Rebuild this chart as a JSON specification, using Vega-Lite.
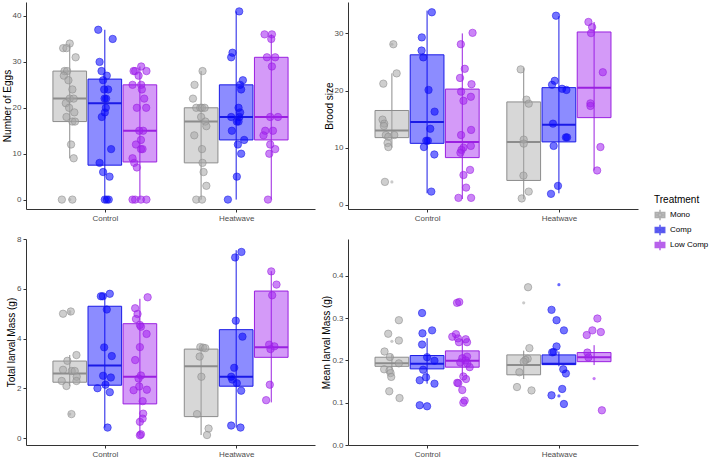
{
 "$schema": "https://vega.github.io/schema/vega-lite/v6.json",
 "background": "white",
 "padding": {"left": 2, "top": 2, "right": 0, "bottom": 0},
 "config": {
  "view": {"stroke": null},
  "font": "Liberation Sans",
  "axis": {"grid": false, "domainColor": "#333333", "tickColor": "#333333", "labelColor": "#4d4d4d", "labelFontSize": 8, "titleFontSize": 10, "titleFontWeight": "normal", "titleColor": "#000000", "tickSize": 3, "labelPadding": 2, "titlePadding": 0},
  "legend": {"titleFontSize": 10, "titleFontWeight": "normal", "labelFontSize": 8, "labelColor": "#000000", "titleColor": "#000000"}
 },
 "datasets": {
  "boxes": [
   {"measure":"Eggs","site":"Control","treatment":"Mono","lw":9,"q1":17,"med":22,"q3":28,"uw":34},
   {"measure":"Eggs","site":"Control","treatment":"Comp","lw":0,"q1":7.5,"med":21,"q3":26.25,"uw":37},
   {"measure":"Eggs","site":"Control","treatment":"Low Comp","lw":0,"q1":8.2,"med":15,"q3":25,"uw":29},
   {"measure":"Eggs","site":"Heatwave","treatment":"Mono","lw":0,"q1":8,"med":17,"q3":20,"uw":28},
   {"measure":"Eggs","site":"Heatwave","treatment":"Comp","lw":0,"q1":13,"med":18,"q3":25,"uw":41},
   {"measure":"Eggs","site":"Heatwave","treatment":"Low Comp","lw":0,"q1":13,"med":18,"q3":31,"uw":36},
   {"measure":"Brood","site":"Control","treatment":"Mono","lw":10,"q1":11.75,"med":13,"q3":16.5,"uw":23},
   {"measure":"Brood","site":"Control","treatment":"Comp","lw":2,"q1":10.75,"med":14.5,"q3":26.25,"uw":34},
   {"measure":"Brood","site":"Control","treatment":"Low Comp","lw":1,"q1":8.25,"med":11,"q3":20.25,"uw":30},
   {"measure":"Brood","site":"Heatwave","treatment":"Mono","lw":1,"q1":4.25,"med":11,"q3":18,"uw":24},
   {"measure":"Brood","site":"Heatwave","treatment":"Comp","lw":2,"q1":11,"med":14,"q3":20.5,"uw":33},
   {"measure":"Brood","site":"Heatwave","treatment":"Low Comp","lw":6,"q1":15.25,"med":20.5,"q3":30.25,"uw":32},
   {"measure":"Total","site":"Control","treatment":"Mono","lw":2.1,"q1":2.25,"med":2.6,"q3":3.1,"uw":3.34},
   {"measure":"Total","site":"Control","treatment":"Comp","lw":0.43,"q1":2.13,"med":2.92,"q3":5.3,"uw":5.8},
   {"measure":"Total","site":"Control","treatment":"Low Comp","lw":0.12,"q1":1.38,"med":2.47,"q3":4.6,"uw":5.6},
   {"measure":"Total","site":"Heatwave","treatment":"Mono","lw":0.13,"q1":0.87,"med":2.89,"q3":3.58,"uw":3.66},
   {"measure":"Total","site":"Heatwave","treatment":"Comp","lw":0.43,"q1":2.09,"med":2.47,"q3":4.36,"uw":7.55},
   {"measure":"Total","site":"Heatwave","treatment":"Low Comp","lw":1.44,"q1":3.25,"med":3.65,"q3":5.91,"uw":6.71},
   {"measure":"Mean","site":"Control","treatment":"Mono","lw":0.178,"q1":0.186,"med":0.193,"q3":0.2075,"uw":0.214},
   {"measure":"Mean","site":"Control","treatment":"Comp","lw":0.145,"q1":0.18,"med":0.192,"q3":0.2115,"uw":0.2525},
   {"measure":"Mean","site":"Control","treatment":"Low Comp","lw":0.163,"q1":0.184,"med":0.199,"q3":0.2225,"uw":0.25},
   {"measure":"Mean","site":"Heatwave","treatment":"Mono","lw":0.156,"q1":0.166,"med":0.189,"q3":0.213,"uw":0.223},
   {"measure":"Mean","site":"Heatwave","treatment":"Comp","lw":0.186,"q1":0.19,"med":0.192,"q3":0.213,"uw":0.221},
   {"measure":"Mean","site":"Heatwave","treatment":"Low Comp","lw":0.189,"q1":0.197,"med":0.2075,"q3":0.2185,"uw":0.236}
  ],
  "outliers": [
   {"measure":"Eggs","site":"Control","treatment":"Mono","value":0},
   {"measure":"Brood","site":"Control","treatment":"Mono","value":4.0},
   {"measure":"Brood","site":"Control","treatment":"Mono","value":28.1},
   {"measure":"Total","site":"Control","treatment":"Mono","value":5.0},
   {"measure":"Total","site":"Control","treatment":"Mono","value":5.09},
   {"measure":"Total","site":"Control","treatment":"Mono","value":0.97},
   {"measure":"Mean","site":"Control","treatment":"Mono","value":0.245},
   {"measure":"Mean","site":"Heatwave","treatment":"Mono","value":0.336},
   {"measure":"Mean","site":"Heatwave","treatment":"Comp","value":0.379},
   {"measure":"Mean","site":"Heatwave","treatment":"Comp","value":0.116},
   {"measure":"Mean","site":"Heatwave","treatment":"Low Comp","value":0.157}
  ],
  "points": [
   {"measure":"Eggs","site":"Control","treatment":"Mono","value":34,"jitter":0},
   {"measure":"Eggs","site":"Control","treatment":"Mono","value":33,"jitter":-0.05},
   {"measure":"Eggs","site":"Control","treatment":"Mono","value":33,"jitter":-0.025},
   {"measure":"Eggs","site":"Control","treatment":"Mono","value":31,"jitter":0.045},
   {"measure":"Eggs","site":"Control","treatment":"Mono","value":28,"jitter":-0.04},
   {"measure":"Eggs","site":"Control","treatment":"Mono","value":28,"jitter":-0.02},
   {"measure":"Eggs","site":"Control","treatment":"Mono","value":27,"jitter":-0.045},
   {"measure":"Eggs","site":"Control","treatment":"Mono","value":26,"jitter":-0.01},
   {"measure":"Eggs","site":"Control","treatment":"Mono","value":24,"jitter":0.02},
   {"measure":"Eggs","site":"Control","treatment":"Mono","value":22,"jitter":0},
   {"measure":"Eggs","site":"Control","treatment":"Mono","value":22,"jitter":0.03},
   {"measure":"Eggs","site":"Control","treatment":"Mono","value":21,"jitter":-0.03},
   {"measure":"Eggs","site":"Control","treatment":"Mono","value":20,"jitter":-0.005},
   {"measure":"Eggs","site":"Control","treatment":"Mono","value":19,"jitter":0.035},
   {"measure":"Eggs","site":"Control","treatment":"Mono","value":18,"jitter":-0.025},
   {"measure":"Eggs","site":"Control","treatment":"Mono","value":17,"jitter":0.02},
   {"measure":"Eggs","site":"Control","treatment":"Mono","value":17,"jitter":0.04},
   {"measure":"Eggs","site":"Control","treatment":"Mono","value":12,"jitter":0.01},
   {"measure":"Eggs","site":"Control","treatment":"Mono","value":9,"jitter":0.03},
   {"measure":"Eggs","site":"Control","treatment":"Mono","value":0,"jitter":-0.06},
   {"measure":"Eggs","site":"Control","treatment":"Mono","value":0,"jitter":0.02},
   {"measure":"Eggs","site":"Control","treatment":"Comp","value":37,"jitter":-0.05},
   {"measure":"Eggs","site":"Control","treatment":"Comp","value":35,"jitter":0.06},
   {"measure":"Eggs","site":"Control","treatment":"Comp","value":30,"jitter":-0.04},
   {"measure":"Eggs","site":"Control","treatment":"Comp","value":28,"jitter":-0.025},
   {"measure":"Eggs","site":"Control","treatment":"Comp","value":27,"jitter":0.015},
   {"measure":"Eggs","site":"Control","treatment":"Comp","value":26,"jitter":-0.013},
   {"measure":"Eggs","site":"Control","treatment":"Comp","value":24,"jitter":-0.005},
   {"measure":"Eggs","site":"Control","treatment":"Comp","value":24,"jitter":0.025},
   {"measure":"Eggs","site":"Control","treatment":"Comp","value":22,"jitter":-0.002},
   {"measure":"Eggs","site":"Control","treatment":"Comp","value":22,"jitter":0.01},
   {"measure":"Eggs","site":"Control","treatment":"Comp","value":20,"jitter":0.008},
   {"measure":"Eggs","site":"Control","treatment":"Comp","value":19,"jitter":0},
   {"measure":"Eggs","site":"Control","treatment":"Comp","value":18,"jitter":-0.023},
   {"measure":"Eggs","site":"Control","treatment":"Comp","value":11,"jitter":0.048},
   {"measure":"Eggs","site":"Control","treatment":"Comp","value":8,"jitter":-0.04},
   {"measure":"Eggs","site":"Control","treatment":"Comp","value":6,"jitter":-0.013},
   {"measure":"Eggs","site":"Control","treatment":"Comp","value":5,"jitter":0.036},
   {"measure":"Eggs","site":"Control","treatment":"Comp","value":0,"jitter":0},
   {"measure":"Eggs","site":"Control","treatment":"Comp","value":0,"jitter":0.015},
   {"measure":"Eggs","site":"Control","treatment":"Comp","value":0,"jitter":0.03},
   {"measure":"Eggs","site":"Control","treatment":"Low Comp","value":29,"jitter":0.01},
   {"measure":"Eggs","site":"Control","treatment":"Low Comp","value":28,"jitter":-0.048},
   {"measure":"Eggs","site":"Control","treatment":"Low Comp","value":28,"jitter":-0.036},
   {"measure":"Eggs","site":"Control","treatment":"Low Comp","value":28,"jitter":0.05},
   {"measure":"Eggs","site":"Control","treatment":"Low Comp","value":27,"jitter":-0.01},
   {"measure":"Eggs","site":"Control","treatment":"Low Comp","value":25,"jitter":-0.056},
   {"measure":"Eggs","site":"Control","treatment":"Low Comp","value":25,"jitter":0.01},
   {"measure":"Eggs","site":"Control","treatment":"Low Comp","value":24,"jitter":0.015},
   {"measure":"Eggs","site":"Control","treatment":"Low Comp","value":22,"jitter":0.033},
   {"measure":"Eggs","site":"Control","treatment":"Low Comp","value":20,"jitter":-0.023},
   {"measure":"Eggs","site":"Control","treatment":"Low Comp","value":20,"jitter":0.048},
   {"measure":"Eggs","site":"Control","treatment":"Low Comp","value":15,"jitter":0.025},
   {"measure":"Eggs","site":"Control","treatment":"Low Comp","value":15,"jitter":-0.005},
   {"measure":"Eggs","site":"Control","treatment":"Low Comp","value":13,"jitter":0.008},
   {"measure":"Eggs","site":"Control","treatment":"Low Comp","value":12,"jitter":-0.03},
   {"measure":"Eggs","site":"Control","treatment":"Low Comp","value":11,"jitter":0.008},
   {"measure":"Eggs","site":"Control","treatment":"Low Comp","value":11,"jitter":0.02},
   {"measure":"Eggs","site":"Control","treatment":"Low Comp","value":9,"jitter":-0.056},
   {"measure":"Eggs","site":"Control","treatment":"Low Comp","value":8,"jitter":-0.043},
   {"measure":"Eggs","site":"Control","treatment":"Low Comp","value":7,"jitter":-0.023},
   {"measure":"Eggs","site":"Control","treatment":"Low Comp","value":0,"jitter":-0.056},
   {"measure":"Eggs","site":"Control","treatment":"Low Comp","value":0,"jitter":-0.036},
   {"measure":"Eggs","site":"Control","treatment":"Low Comp","value":0,"jitter":0.008},
   {"measure":"Eggs","site":"Control","treatment":"Low Comp","value":0,"jitter":0.05},
   {"measure":"Eggs","site":"Heatwave","treatment":"Mono","value":28,"jitter":0.011},
   {"measure":"Eggs","site":"Heatwave","treatment":"Mono","value":25,"jitter":-0.05},
   {"measure":"Eggs","site":"Heatwave","treatment":"Mono","value":22,"jitter":-0.062},
   {"measure":"Eggs","site":"Heatwave","treatment":"Mono","value":20,"jitter":-0.037},
   {"measure":"Eggs","site":"Heatwave","treatment":"Mono","value":20,"jitter":-0.006},
   {"measure":"Eggs","site":"Heatwave","treatment":"Mono","value":20,"jitter":0.007},
   {"measure":"Eggs","site":"Heatwave","treatment":"Mono","value":20,"jitter":0.027},
   {"measure":"Eggs","site":"Heatwave","treatment":"Mono","value":18,"jitter":0},
   {"measure":"Eggs","site":"Heatwave","treatment":"Mono","value":17,"jitter":0.032},
   {"measure":"Eggs","site":"Heatwave","treatment":"Mono","value":16,"jitter":0.04},
   {"measure":"Eggs","site":"Heatwave","treatment":"Mono","value":14,"jitter":-0.052},
   {"measure":"Eggs","site":"Heatwave","treatment":"Mono","value":11,"jitter":0.007},
   {"measure":"Eggs","site":"Heatwave","treatment":"Mono","value":8,"jitter":0.011},
   {"measure":"Eggs","site":"Heatwave","treatment":"Mono","value":6,"jitter":0.019},
   {"measure":"Eggs","site":"Heatwave","treatment":"Mono","value":3,"jitter":0.04},
   {"measure":"Eggs","site":"Heatwave","treatment":"Mono","value":0,"jitter":-0.037},
   {"measure":"Eggs","site":"Heatwave","treatment":"Mono","value":0,"jitter":0.007},
   {"measure":"Eggs","site":"Heatwave","treatment":"Comp","value":41,"jitter":0.023},
   {"measure":"Eggs","site":"Heatwave","treatment":"Comp","value":32,"jitter":-0.028},
   {"measure":"Eggs","site":"Heatwave","treatment":"Comp","value":31,"jitter":-0.038},
   {"measure":"Eggs","site":"Heatwave","treatment":"Comp","value":26,"jitter":0.051},
   {"measure":"Eggs","site":"Heatwave","treatment":"Comp","value":25,"jitter":0.03},
   {"measure":"Eggs","site":"Heatwave","treatment":"Comp","value":24,"jitter":0.038},
   {"measure":"Eggs","site":"Heatwave","treatment":"Comp","value":20,"jitter":0.018},
   {"measure":"Eggs","site":"Heatwave","treatment":"Comp","value":19,"jitter":0.03},
   {"measure":"Eggs","site":"Heatwave","treatment":"Comp","value":18,"jitter":-0.038},
   {"measure":"Eggs","site":"Heatwave","treatment":"Comp","value":18,"jitter":0.025},
   {"measure":"Eggs","site":"Heatwave","treatment":"Comp","value":17,"jitter":0.005},
   {"measure":"Eggs","site":"Heatwave","treatment":"Comp","value":17,"jitter":0.018},
   {"measure":"Eggs","site":"Heatwave","treatment":"Comp","value":15,"jitter":-0.033},
   {"measure":"Eggs","site":"Heatwave","treatment":"Comp","value":13,"jitter":0.061},
   {"measure":"Eggs","site":"Heatwave","treatment":"Comp","value":12,"jitter":0.013},
   {"measure":"Eggs","site":"Heatwave","treatment":"Comp","value":10,"jitter":0.038},
   {"measure":"Eggs","site":"Heatwave","treatment":"Comp","value":5,"jitter":0.005},
   {"measure":"Eggs","site":"Heatwave","treatment":"Comp","value":0,"jitter":-0.063},
   {"measure":"Eggs","site":"Heatwave","treatment":"Low Comp","value":36,"jitter":-0.051},
   {"measure":"Eggs","site":"Heatwave","treatment":"Low Comp","value":36,"jitter":0.005},
   {"measure":"Eggs","site":"Heatwave","treatment":"Low Comp","value":35,"jitter":0},
   {"measure":"Eggs","site":"Heatwave","treatment":"Low Comp","value":31,"jitter":-0.033},
   {"measure":"Eggs","site":"Heatwave","treatment":"Low Comp","value":31,"jitter":0.03},
   {"measure":"Eggs","site":"Heatwave","treatment":"Low Comp","value":29,"jitter":0.005},
   {"measure":"Eggs","site":"Heatwave","treatment":"Low Comp","value":18,"jitter":-0.008},
   {"measure":"Eggs","site":"Heatwave","treatment":"Low Comp","value":18,"jitter":0.051},
   {"measure":"Eggs","site":"Heatwave","treatment":"Low Comp","value":15,"jitter":-0.046},
   {"measure":"Eggs","site":"Heatwave","treatment":"Low Comp","value":15,"jitter":0.013},
   {"measure":"Eggs","site":"Heatwave","treatment":"Low Comp","value":14,"jitter":-0.059},
   {"measure":"Eggs","site":"Heatwave","treatment":"Low Comp","value":12,"jitter":-0.008},
   {"measure":"Eggs","site":"Heatwave","treatment":"Low Comp","value":11,"jitter":0.03},
   {"measure":"Eggs","site":"Heatwave","treatment":"Low Comp","value":10,"jitter":-0.015},
   {"measure":"Eggs","site":"Heatwave","treatment":"Low Comp","value":0,"jitter":-0.025},
   {"measure":"Brood","site":"Control","treatment":"Mono","value":28.1,"jitter":0.011},
   {"measure":"Brood","site":"Control","treatment":"Mono","value":23,"jitter":0.036},
   {"measure":"Brood","site":"Control","treatment":"Mono","value":21.2,"jitter":-0.065},
   {"measure":"Brood","site":"Control","treatment":"Mono","value":14.9,"jitter":-0.071},
   {"measure":"Brood","site":"Control","treatment":"Mono","value":14.2,"jitter":-0.058},
   {"measure":"Brood","site":"Control","treatment":"Mono","value":13.8,"jitter":-0.061},
   {"measure":"Brood","site":"Control","treatment":"Mono","value":12.2,"jitter":-0.046},
   {"measure":"Brood","site":"Control","treatment":"Mono","value":11.9,"jitter":-0.027},
   {"measure":"Brood","site":"Control","treatment":"Mono","value":12.2,"jitter":0.018},
   {"measure":"Brood","site":"Control","treatment":"Mono","value":10.8,"jitter":-0.033},
   {"measure":"Brood","site":"Control","treatment":"Mono","value":10.1,"jitter":-0.027},
   {"measure":"Brood","site":"Control","treatment":"Mono","value":4.0,"jitter":-0.053},
   {"measure":"Brood","site":"Control","treatment":"Comp","value":33.7,"jitter":0.036},
   {"measure":"Brood","site":"Control","treatment":"Comp","value":29.3,"jitter":-0.04},
   {"measure":"Brood","site":"Control","treatment":"Comp","value":27,"jitter":-0.042},
   {"measure":"Brood","site":"Control","treatment":"Comp","value":25.8,"jitter":-0.029},
   {"measure":"Brood","site":"Control","treatment":"Comp","value":20.1,"jitter":0.011},
   {"measure":"Brood","site":"Control","treatment":"Comp","value":16.3,"jitter":0.057},
   {"measure":"Brood","site":"Control","treatment":"Comp","value":13.3,"jitter":0.024},
   {"measure":"Brood","site":"Control","treatment":"Comp","value":11.2,"jitter":-0.006},
   {"measure":"Brood","site":"Control","treatment":"Comp","value":11.2,"jitter":0.006},
   {"measure":"Brood","site":"Control","treatment":"Comp","value":10.1,"jitter":-0.024},
   {"measure":"Brood","site":"Control","treatment":"Comp","value":8.8,"jitter":0.055},
   {"measure":"Brood","site":"Control","treatment":"Comp","value":2.3,"jitter":0.032},
   {"measure":"Brood","site":"Control","treatment":"Low Comp","value":30.1,"jitter":0.078},
   {"measure":"Brood","site":"Control","treatment":"Low Comp","value":28.1,"jitter":-0.011},
   {"measure":"Brood","site":"Control","treatment":"Low Comp","value":23.8,"jitter":0.019},
   {"measure":"Brood","site":"Control","treatment":"Low Comp","value":22.2,"jitter":-0.017},
   {"measure":"Brood","site":"Control","treatment":"Low Comp","value":21.1,"jitter":0.07},
   {"measure":"Brood","site":"Control","treatment":"Low Comp","value":19.8,"jitter":-0.009},
   {"measure":"Brood","site":"Control","treatment":"Low Comp","value":18.9,"jitter":0.065},
   {"measure":"Brood","site":"Control","treatment":"Low Comp","value":18.2,"jitter":0.009},
   {"measure":"Brood","site":"Control","treatment":"Low Comp","value":13.1,"jitter":0.067},
   {"measure":"Brood","site":"Control","treatment":"Low Comp","value":12.2,"jitter":-0.009},
   {"measure":"Brood","site":"Control","treatment":"Low Comp","value":10.3,"jitter":0.065},
   {"measure":"Brood","site":"Control","treatment":"Low Comp","value":10.0,"jitter":0.009},
   {"measure":"Brood","site":"Control","treatment":"Low Comp","value":9.6,"jitter":-0.006},
   {"measure":"Brood","site":"Control","treatment":"Low Comp","value":9.1,"jitter":-0.014},
   {"measure":"Brood","site":"Control","treatment":"Low Comp","value":5.2,"jitter":0.009},
   {"measure":"Brood","site":"Control","treatment":"Low Comp","value":6.1,"jitter":0.059},
   {"measure":"Brood","site":"Control","treatment":"Low Comp","value":3.0,"jitter":0.029},
   {"measure":"Brood","site":"Control","treatment":"Low Comp","value":1.2,"jitter":-0.029},
   {"measure":"Brood","site":"Control","treatment":"Low Comp","value":1.2,"jitter":0.067},
   {"measure":"Brood","site":"Heatwave","treatment":"Mono","value":23.7,"jitter":-0.023},
   {"measure":"Brood","site":"Heatwave","treatment":"Mono","value":18.4,"jitter":0.021},
   {"measure":"Brood","site":"Heatwave","treatment":"Mono","value":17.7,"jitter":0.038},
   {"measure":"Brood","site":"Heatwave","treatment":"Mono","value":11.4,"jitter":0},
   {"measure":"Brood","site":"Heatwave","treatment":"Mono","value":10.7,"jitter":0},
   {"measure":"Brood","site":"Heatwave","treatment":"Mono","value":5.1,"jitter":-0.002},
   {"measure":"Brood","site":"Heatwave","treatment":"Mono","value":2.3,"jitter":0.038},
   {"measure":"Brood","site":"Heatwave","treatment":"Mono","value":1.1,"jitter":-0.015},
   {"measure":"Brood","site":"Heatwave","treatment":"Comp","value":33.1,"jitter":-0.022},
   {"measure":"Brood","site":"Heatwave","treatment":"Comp","value":21.7,"jitter":-0.032},
   {"measure":"Brood","site":"Heatwave","treatment":"Comp","value":21.0,"jitter":-0.052},
   {"measure":"Brood","site":"Heatwave","treatment":"Comp","value":20.3,"jitter":0.024},
   {"measure":"Brood","site":"Heatwave","treatment":"Comp","value":20.1,"jitter":0.057},
   {"measure":"Brood","site":"Heatwave","treatment":"Comp","value":14.2,"jitter":-0.045},
   {"measure":"Brood","site":"Heatwave","treatment":"Comp","value":11.8,"jitter":0.062},
   {"measure":"Brood","site":"Heatwave","treatment":"Comp","value":11.8,"jitter":0.053},
   {"measure":"Brood","site":"Heatwave","treatment":"Comp","value":10.3,"jitter":-0.04},
   {"measure":"Brood","site":"Heatwave","treatment":"Comp","value":3.3,"jitter":-0.007},
   {"measure":"Brood","site":"Heatwave","treatment":"Comp","value":1.9,"jitter":-0.06},
   {"measure":"Brood","site":"Heatwave","treatment":"Low Comp","value":32.0,"jitter":-0.043},
   {"measure":"Brood","site":"Heatwave","treatment":"Low Comp","value":31.1,"jitter":-0.015},
   {"measure":"Brood","site":"Heatwave","treatment":"Low Comp","value":30.05,"jitter":-0.023},
   {"measure":"Brood","site":"Heatwave","treatment":"Low Comp","value":23.2,"jitter":0.066},
   {"measure":"Brood","site":"Heatwave","treatment":"Low Comp","value":17.75,"jitter":-0.028},
   {"measure":"Brood","site":"Heatwave","treatment":"Low Comp","value":17.3,"jitter":-0.028},
   {"measure":"Brood","site":"Heatwave","treatment":"Low Comp","value":10.1,"jitter":0.048},
   {"measure":"Brood","site":"Heatwave","treatment":"Low Comp","value":6.0,"jitter":0.023},
   {"measure":"Total","site":"Control","treatment":"Mono","value":5.0,"jitter":-0.051},
   {"measure":"Total","site":"Control","treatment":"Mono","value":5.09,"jitter":0.008},
   {"measure":"Total","site":"Control","treatment":"Mono","value":3.34,"jitter":0.051},
   {"measure":"Total","site":"Control","treatment":"Mono","value":3.11,"jitter":-0.018},
   {"measure":"Total","site":"Control","treatment":"Mono","value":2.75,"jitter":-0.051},
   {"measure":"Total","site":"Control","treatment":"Mono","value":2.7,"jitter":0.015},
   {"measure":"Total","site":"Control","treatment":"Mono","value":2.7,"jitter":0.038},
   {"measure":"Total","site":"Control","treatment":"Mono","value":2.47,"jitter":0.053},
   {"measure":"Total","site":"Control","treatment":"Mono","value":2.3,"jitter":0.051},
   {"measure":"Total","site":"Control","treatment":"Mono","value":2.3,"jitter":-0.061},
   {"measure":"Total","site":"Control","treatment":"Mono","value":2.1,"jitter":-0.025},
   {"measure":"Total","site":"Control","treatment":"Mono","value":0.97,"jitter":0.013},
   {"measure":"Total","site":"Control","treatment":"Comp","value":5.7,"jitter":-0.03},
   {"measure":"Total","site":"Control","treatment":"Comp","value":5.7,"jitter":-0.015},
   {"measure":"Total","site":"Control","treatment":"Comp","value":5.8,"jitter":0.038},
   {"measure":"Total","site":"Control","treatment":"Comp","value":5.17,"jitter":0.015},
   {"measure":"Total","site":"Control","treatment":"Comp","value":3.65,"jitter":-0.005},
   {"measure":"Total","site":"Control","treatment":"Comp","value":3.3,"jitter":0.053},
   {"measure":"Total","site":"Control","treatment":"Comp","value":2.51,"jitter":-0.013},
   {"measure":"Total","site":"Control","treatment":"Comp","value":2.44,"jitter":0.046},
   {"measure":"Total","site":"Control","treatment":"Comp","value":2.15,"jitter":0.005},
   {"measure":"Total","site":"Control","treatment":"Comp","value":2.01,"jitter":-0.056},
   {"measure":"Total","site":"Control","treatment":"Comp","value":1.85,"jitter":0.038},
   {"measure":"Total","site":"Control","treatment":"Comp","value":0.43,"jitter":0.021},
   {"measure":"Total","site":"Control","treatment":"Low Comp","value":5.66,"jitter":0.059},
   {"measure":"Total","site":"Control","treatment":"Low Comp","value":5.22,"jitter":-0.036},
   {"measure":"Total","site":"Control","treatment":"Low Comp","value":4.99,"jitter":-0.018},
   {"measure":"Total","site":"Control","treatment":"Low Comp","value":4.79,"jitter":-0.03},
   {"measure":"Total","site":"Control","treatment":"Low Comp","value":4.55,"jitter":0},
   {"measure":"Total","site":"Control","treatment":"Low Comp","value":4.48,"jitter":0.008},
   {"measure":"Total","site":"Control","treatment":"Low Comp","value":4.19,"jitter":0.051},
   {"measure":"Total","site":"Control","treatment":"Low Comp","value":3.66,"jitter":0},
   {"measure":"Total","site":"Control","treatment":"Low Comp","value":3.14,"jitter":-0.036},
   {"measure":"Total","site":"Control","treatment":"Low Comp","value":2.52,"jitter":0.008},
   {"measure":"Total","site":"Control","treatment":"Low Comp","value":2.4,"jitter":-0.01},
   {"measure":"Total","site":"Control","treatment":"Low Comp","value":1.95,"jitter":0.053},
   {"measure":"Total","site":"Control","treatment":"Low Comp","value":1.93,"jitter":-0.048},
   {"measure":"Total","site":"Control","treatment":"Low Comp","value":2.08,"jitter":-0.005},
   {"measure":"Total","site":"Control","treatment":"Low Comp","value":1.49,"jitter":0.021},
   {"measure":"Total","site":"Control","treatment":"Low Comp","value":0.99,"jitter":0.025},
   {"measure":"Total","site":"Control","treatment":"Low Comp","value":0.79,"jitter":0.021},
   {"measure":"Total","site":"Control","treatment":"Low Comp","value":0.66,"jitter":0},
   {"measure":"Total","site":"Control","treatment":"Low Comp","value":0.16,"jitter":0.008},
   {"measure":"Total","site":"Control","treatment":"Low Comp","value":0.12,"jitter":0},
   {"measure":"Total","site":"Heatwave","treatment":"Mono","value":3.66,"jitter":-0.006},
   {"measure":"Total","site":"Heatwave","treatment":"Mono","value":3.64,"jitter":0.015},
   {"measure":"Total","site":"Heatwave","treatment":"Mono","value":3.62,"jitter":0.032},
   {"measure":"Total","site":"Heatwave","treatment":"Mono","value":3.28,"jitter":-0.011},
   {"measure":"Total","site":"Heatwave","treatment":"Mono","value":2.47,"jitter":0.002},
   {"measure":"Total","site":"Heatwave","treatment":"Mono","value":0.97,"jitter":-0.031},
   {"measure":"Total","site":"Heatwave","treatment":"Mono","value":0.39,"jitter":0.057},
   {"measure":"Total","site":"Heatwave","treatment":"Mono","value":0.13,"jitter":0.045},
   {"measure":"Total","site":"Heatwave","treatment":"Comp","value":7.48,"jitter":0.04},
   {"measure":"Total","site":"Heatwave","treatment":"Comp","value":7.26,"jitter":-0.008},
   {"measure":"Total","site":"Heatwave","treatment":"Comp","value":4.72,"jitter":-0.003},
   {"measure":"Total","site":"Heatwave","treatment":"Comp","value":4.08,"jitter":0.048},
   {"measure":"Total","site":"Heatwave","treatment":"Comp","value":2.83,"jitter":-0.015},
   {"measure":"Total","site":"Heatwave","treatment":"Comp","value":2.47,"jitter":-0.038},
   {"measure":"Total","site":"Heatwave","treatment":"Comp","value":2.36,"jitter":-0.03},
   {"measure":"Total","site":"Heatwave","treatment":"Comp","value":2.21,"jitter":0.005},
   {"measure":"Total","site":"Heatwave","treatment":"Comp","value":1.91,"jitter":0.038},
   {"measure":"Total","site":"Heatwave","treatment":"Comp","value":0.51,"jitter":-0.038},
   {"measure":"Total","site":"Heatwave","treatment":"Comp","value":0.43,"jitter":0.033},
   {"measure":"Total","site":"Heatwave","treatment":"Low Comp","value":6.7,"jitter":0},
   {"measure":"Total","site":"Heatwave","treatment":"Low Comp","value":6.17,"jitter":0.04},
   {"measure":"Total","site":"Heatwave","treatment":"Low Comp","value":5.74,"jitter":0.007},
   {"measure":"Total","site":"Heatwave","treatment":"Low Comp","value":3.76,"jitter":-0.016},
   {"measure":"Total","site":"Heatwave","treatment":"Low Comp","value":3.69,"jitter":0.024},
   {"measure":"Total","site":"Heatwave","treatment":"Low Comp","value":3.58,"jitter":-0.006},
   {"measure":"Total","site":"Heatwave","treatment":"Low Comp","value":2.15,"jitter":-0.011},
   {"measure":"Total","site":"Heatwave","treatment":"Low Comp","value":1.53,"jitter":-0.039},
   {"measure":"Mean","site":"Control","treatment":"Mono","value":0.295,"jitter":0.053},
   {"measure":"Mean","site":"Control","treatment":"Mono","value":0.263,"jitter":-0.028},
   {"measure":"Mean","site":"Control","treatment":"Mono","value":0.247,"jitter":0.053},
   {"measure":"Mean","site":"Control","treatment":"Mono","value":0.221,"jitter":-0.056},
   {"measure":"Mean","site":"Control","treatment":"Mono","value":0.208,"jitter":-0.015},
   {"measure":"Mean","site":"Control","treatment":"Mono","value":0.193,"jitter":0.053},
   {"measure":"Mean","site":"Control","treatment":"Mono","value":0.179,"jitter":-0.059},
   {"measure":"Mean","site":"Control","treatment":"Mono","value":0.176,"jitter":-0.018},
   {"measure":"Mean","site":"Control","treatment":"Mono","value":0.17,"jitter":-0.01},
   {"measure":"Mean","site":"Control","treatment":"Mono","value":0.161,"jitter":-0.005},
   {"measure":"Mean","site":"Control","treatment":"Mono","value":0.127,"jitter":-0.02},
   {"measure":"Mean","site":"Control","treatment":"Mono","value":0.111,"jitter":0.058},
   {"measure":"Mean","site":"Control","treatment":"Comp","value":0.312,"jitter":-0.038},
   {"measure":"Mean","site":"Control","treatment":"Comp","value":0.264,"jitter":-0.035},
   {"measure":"Mean","site":"Control","treatment":"Comp","value":0.271,"jitter":0.038},
   {"measure":"Mean","site":"Control","treatment":"Comp","value":0.2375,"jitter":-0.038},
   {"measure":"Mean","site":"Control","treatment":"Comp","value":0.2075,"jitter":0},
   {"measure":"Mean","site":"Control","treatment":"Comp","value":0.199,"jitter":0.056},
   {"measure":"Mean","site":"Control","treatment":"Comp","value":0.178,"jitter":-0.03},
   {"measure":"Mean","site":"Control","treatment":"Comp","value":0.16,"jitter":-0.008},
   {"measure":"Mean","site":"Control","treatment":"Comp","value":0.153,"jitter":-0.056},
   {"measure":"Mean","site":"Control","treatment":"Comp","value":0.145,"jitter":0.056},
   {"measure":"Mean","site":"Control","treatment":"Comp","value":0.094,"jitter":-0.056},
   {"measure":"Mean","site":"Control","treatment":"Comp","value":0.0915,"jitter":0},
   {"measure":"Mean","site":"Control","treatment":"Low Comp","value":0.336,"jitter":-0.04},
   {"measure":"Mean","site":"Control","treatment":"Low Comp","value":0.338,"jitter":-0.023},
   {"measure":"Mean","site":"Control","treatment":"Low Comp","value":0.256,"jitter":-0.076},
   {"measure":"Mean","site":"Control","treatment":"Low Comp","value":0.262,"jitter":-0.048},
   {"measure":"Mean","site":"Control","treatment":"Low Comp","value":0.252,"jitter":-0.033},
   {"measure":"Mean","site":"Control","treatment":"Low Comp","value":0.25,"jitter":0.026},
   {"measure":"Mean","site":"Control","treatment":"Low Comp","value":0.243,"jitter":-0.025},
   {"measure":"Mean","site":"Control","treatment":"Low Comp","value":0.243,"jitter":0.036},
   {"measure":"Mean","site":"Control","treatment":"Low Comp","value":0.209,"jitter":0.036},
   {"measure":"Mean","site":"Control","treatment":"Low Comp","value":0.205,"jitter":0},
   {"measure":"Mean","site":"Control","treatment":"Low Comp","value":0.2,"jitter":0.026},
   {"measure":"Mean","site":"Control","treatment":"Low Comp","value":0.193,"jitter":0.038},
   {"measure":"Mean","site":"Control","treatment":"Low Comp","value":0.195,"jitter":-0.015},
   {"measure":"Mean","site":"Control","treatment":"Low Comp","value":0.184,"jitter":0.056},
   {"measure":"Mean","site":"Control","treatment":"Low Comp","value":0.162,"jitter":0.008},
   {"measure":"Mean","site":"Control","treatment":"Low Comp","value":0.156,"jitter":0.028},
   {"measure":"Mean","site":"Control","treatment":"Low Comp","value":0.147,"jitter":-0.038},
   {"measure":"Mean","site":"Control","treatment":"Low Comp","value":0.146,"jitter":-0.03},
   {"measure":"Mean","site":"Control","treatment":"Low Comp","value":0.13,"jitter":0},
   {"measure":"Mean","site":"Control","treatment":"Low Comp","value":0.105,"jitter":0.018},
   {"measure":"Mean","site":"Control","treatment":"Low Comp","value":0.1,"jitter":0.008},
   {"measure":"Mean","site":"Heatwave","treatment":"Mono","value":0.373,"jitter":0.033},
   {"measure":"Mean","site":"Heatwave","treatment":"Mono","value":0.229,"jitter":0.043},
   {"measure":"Mean","site":"Heatwave","treatment":"Mono","value":0.204,"jitter":0.03},
   {"measure":"Mean","site":"Heatwave","treatment":"Mono","value":0.201,"jitter":0.013},
   {"measure":"Mean","site":"Heatwave","treatment":"Mono","value":0.197,"jitter":0},
   {"measure":"Mean","site":"Heatwave","treatment":"Mono","value":0.172,"jitter":-0.033},
   {"measure":"Mean","site":"Heatwave","treatment":"Mono","value":0.137,"jitter":-0.051},
   {"measure":"Mean","site":"Heatwave","treatment":"Mono","value":0.129,"jitter":0.059},
   {"measure":"Mean","site":"Heatwave","treatment":"Comp","value":0.3195,"jitter":-0.056},
   {"measure":"Mean","site":"Heatwave","treatment":"Comp","value":0.295,"jitter":-0.018},
   {"measure":"Mean","site":"Heatwave","treatment":"Comp","value":0.271,"jitter":0.038},
   {"measure":"Mean","site":"Heatwave","treatment":"Comp","value":0.233,"jitter":-0.018},
   {"measure":"Mean","site":"Heatwave","treatment":"Comp","value":0.219,"jitter":-0.051},
   {"measure":"Mean","site":"Heatwave","treatment":"Comp","value":0.22,"jitter":-0.04},
   {"measure":"Mean","site":"Heatwave","treatment":"Comp","value":0.179,"jitter":0.033},
   {"measure":"Mean","site":"Heatwave","treatment":"Comp","value":0.169,"jitter":0.053},
   {"measure":"Mean","site":"Heatwave","treatment":"Comp","value":0.1325,"jitter":0.025},
   {"measure":"Mean","site":"Heatwave","treatment":"Comp","value":0.1175,"jitter":-0.056},
   {"measure":"Mean","site":"Heatwave","treatment":"Comp","value":0.097,"jitter":0.038},
   {"measure":"Mean","site":"Heatwave","treatment":"Low Comp","value":0.299,"jitter":0.025},
   {"measure":"Mean","site":"Heatwave","treatment":"Low Comp","value":0.271,"jitter":-0.013},
   {"measure":"Mean","site":"Heatwave","treatment":"Low Comp","value":0.267,"jitter":0.051},
   {"measure":"Mean","site":"Heatwave","treatment":"Low Comp","value":0.26,"jitter":-0.056},
   {"measure":"Mean","site":"Heatwave","treatment":"Low Comp","value":0.2185,"jitter":-0.051},
   {"measure":"Mean","site":"Heatwave","treatment":"Low Comp","value":0.207,"jitter":-0.043},
   {"measure":"Mean","site":"Heatwave","treatment":"Low Comp","value":0.082,"jitter":0.059}
  ]
 },
 "columns": 2,
 "spacing": {"row": 13, "column": 6},
 "resolve": {"scale": {"x": "independent", "y": "independent"}},
 "concat": [
  {
   "width": 289, "height": 207,
   "layer": [
    {"data": {"name": "boxes"},
     "transform": [{"filter": "datum.measure === 'Eggs'"}, {"calculate": "(datum.site === 'Control' ? 1 : 2) + (datum.treatment === 'Mono' ? -0.267 : (datum.treatment === 'Comp' ? 0 : 0.267))", "as": "xc"}],
     "mark": {"type": "rule", "strokeWidth": 1},
     "encoding": {
      "x": {"field": "xc", "type": "quantitative", "scale": {"domain": [0.4, 2.6], "nice": false, "zero": false}, "axis": {"values": [1, 2], "labelExpr": "datum.value == 1 ? 'Control' : 'Heatwave'", "title": null}},
      "y": {"field": "lw", "type": "quantitative", "scale": {"domain": [-2.05, 43.05], "nice": false, "zero": false}, "axis": {"title": "Number of Eggs", "values": [0, 10, 20, 30, 40]}},
      "y2": {"field": "uw"},
      "stroke": {"field": "treatment", "type": "nominal", "scale": {"domain": ["Mono", "Comp", "Low Comp"], "range": ["#8c8c8c", "#1a1ae6", "#9a20e0"]}}
     }},
    {"data": {"name": "boxes"},
     "transform": [{"filter": "datum.measure === 'Eggs'"}, {"calculate": "(datum.site === 'Control' ? 1 : 2) + (datum.treatment === 'Mono' ? -0.267 : (datum.treatment === 'Comp' ? 0 : 0.267))", "as": "xc"}, {"calculate": "datum.xc - 0.128", "as": "xl"}, {"calculate": "datum.xc + 0.128", "as": "xr"}],
     "mark": {"type": "rect", "fillOpacity": 0.45, "strokeWidth": 1},
     "encoding": {
      "x": {"field": "xl", "type": "quantitative"},
      "x2": {"field": "xr"},
      "y": {"field": "q1", "type": "quantitative"},
      "y2": {"field": "q3"},
      "fill": {"field": "treatment", "type": "nominal", "scale": {"domain": ["Mono", "Comp", "Low Comp"], "range": ["#a6a6a6", "#0000ff", "#a020f0"]}, "legend": {"title": "Treatment", "orient": "none", "legendX": 628, "legendY": 193, "symbolType": "M-0.9,-0.5H0.9V0.5H-0.9Z M0,-1V-0.5 M0,0.5V1 M-0.9,0H-0.35 M0.35,0H0.9 M0.35,0A0.35,0.35 0 1,1 -0.35,0A0.35,0.35 0 1,1 0.35,0Z", "symbolSize": 110, "symbolOpacity": 0.7, "rowPadding": -3, "titlePadding": 4}},
      "stroke": {"field": "treatment", "type": "nominal", "legend": {"title": "Treatment", "orient": "none", "legendX": 628, "legendY": 193, "symbolType": "M-0.9,-0.5H0.9V0.5H-0.9Z M0,-1V-0.5 M0,0.5V1 M-0.9,0H-0.35 M0.35,0H0.9 M0.35,0A0.35,0.35 0 1,1 -0.35,0A0.35,0.35 0 1,1 0.35,0Z", "symbolSize": 110, "symbolOpacity": 0.7, "rowPadding": -3, "titlePadding": 4}}
     }},
    {"data": {"name": "boxes"},
     "transform": [{"filter": "datum.measure === 'Eggs'"}, {"calculate": "(datum.site === 'Control' ? 1 : 2) + (datum.treatment === 'Mono' ? -0.267 : (datum.treatment === 'Comp' ? 0 : 0.267))", "as": "xc"}, {"calculate": "datum.xc - 0.128", "as": "xl"}, {"calculate": "datum.xc + 0.128", "as": "xr"}],
     "mark": {"type": "rule", "strokeWidth": 2},
     "encoding": {
      "x": {"field": "xl", "type": "quantitative"},
      "x2": {"field": "xr"},
      "y": {"field": "med", "type": "quantitative"},
      "stroke": {"field": "treatment", "type": "nominal"}
     }},
    {"data": {"name": "points"},
     "transform": [{"filter": "datum.measure === 'Eggs'"}, {"calculate": "(datum.site === 'Control' ? 1 : 2) + (datum.treatment === 'Mono' ? -0.267 : (datum.treatment === 'Comp' ? 0 : 0.267)) + datum.jitter", "as": "xp"}],
     "mark": {"type": "point", "filled": true, "shape": "circle", "size": 55, "fillOpacity": 0.55, "strokeOpacity": 0.7, "strokeWidth": 0.8},
     "encoding": {
      "x": {"field": "xp", "type": "quantitative"},
      "y": {"field": "value", "type": "quantitative"},
      "fill": {"field": "treatment", "type": "nominal"},
      "stroke": {"field": "treatment", "type": "nominal"}
     }},
    {"data": {"name": "outliers"},
     "transform": [{"filter": "datum.measure === 'Eggs'"}, {"calculate": "(datum.site === 'Control' ? 1 : 2) + (datum.treatment === 'Mono' ? -0.267 : (datum.treatment === 'Comp' ? 0 : 0.267))", "as": "xc"}],
     "mark": {"type": "point", "filled": true, "shape": "circle", "size": 10, "opacity": 0.6},
     "encoding": {
      "x": {"field": "xc", "type": "quantitative"},
      "y": {"field": "value", "type": "quantitative"},
      "fill": {"field": "treatment", "type": "nominal"}
     }}
   ]
  },
  {
   "width": 290, "height": 207,
   "layer": [
    {"data": {"name": "boxes"},
     "transform": [{"filter": "datum.measure === 'Brood'"}, {"calculate": "(datum.site === 'Control' ? 1 : 2) + (datum.treatment === 'Mono' ? -0.267 : (datum.treatment === 'Comp' ? 0 : 0.267))", "as": "xc"}],
     "mark": {"type": "rule", "strokeWidth": 1},
     "encoding": {
      "x": {"field": "xc", "type": "quantitative", "scale": {"domain": [0.4, 2.6], "nice": false, "zero": false}, "axis": {"values": [1, 2], "labelExpr": "datum.value == 1 ? 'Control' : 'Heatwave'", "title": null}},
      "y": {"field": "lw", "type": "quantitative", "scale": {"domain": [-0.75, 35.5], "nice": false, "zero": false}, "axis": {"title": "Brood size", "values": [0, 10, 20, 30]}},
      "y2": {"field": "uw"},
      "stroke": {"field": "treatment", "type": "nominal"}
     }},
    {"data": {"name": "boxes"},
     "transform": [{"filter": "datum.measure === 'Brood'"}, {"calculate": "(datum.site === 'Control' ? 1 : 2) + (datum.treatment === 'Mono' ? -0.267 : (datum.treatment === 'Comp' ? 0 : 0.267))", "as": "xc"}, {"calculate": "datum.xc - 0.128", "as": "xl"}, {"calculate": "datum.xc + 0.128", "as": "xr"}],
     "mark": {"type": "rect", "fillOpacity": 0.45, "strokeWidth": 1},
     "encoding": {
      "x": {"field": "xl", "type": "quantitative"},
      "x2": {"field": "xr"},
      "y": {"field": "q1", "type": "quantitative"},
      "y2": {"field": "q3"},
      "fill": {"field": "treatment", "type": "nominal"},
      "stroke": {"field": "treatment", "type": "nominal"}
     }},
    {"data": {"name": "boxes"},
     "transform": [{"filter": "datum.measure === 'Brood'"}, {"calculate": "(datum.site === 'Control' ? 1 : 2) + (datum.treatment === 'Mono' ? -0.267 : (datum.treatment === 'Comp' ? 0 : 0.267))", "as": "xc"}, {"calculate": "datum.xc - 0.128", "as": "xl"}, {"calculate": "datum.xc + 0.128", "as": "xr"}],
     "mark": {"type": "rule", "strokeWidth": 2},
     "encoding": {
      "x": {"field": "xl", "type": "quantitative"},
      "x2": {"field": "xr"},
      "y": {"field": "med", "type": "quantitative"},
      "stroke": {"field": "treatment", "type": "nominal"}
     }},
    {"data": {"name": "points"},
     "transform": [{"filter": "datum.measure === 'Brood'"}, {"calculate": "(datum.site === 'Control' ? 1 : 2) + (datum.treatment === 'Mono' ? -0.267 : (datum.treatment === 'Comp' ? 0 : 0.267)) + datum.jitter", "as": "xp"}],
     "mark": {"type": "point", "filled": true, "shape": "circle", "size": 55, "fillOpacity": 0.55, "strokeOpacity": 0.7, "strokeWidth": 0.8},
     "encoding": {
      "x": {"field": "xp", "type": "quantitative"},
      "y": {"field": "value", "type": "quantitative"},
      "fill": {"field": "treatment", "type": "nominal"},
      "stroke": {"field": "treatment", "type": "nominal"}
     }},
    {"data": {"name": "outliers"},
     "transform": [{"filter": "datum.measure === 'Brood'"}, {"calculate": "(datum.site === 'Control' ? 1 : 2) + (datum.treatment === 'Mono' ? -0.267 : (datum.treatment === 'Comp' ? 0 : 0.267))", "as": "xc"}],
     "mark": {"type": "point", "filled": true, "shape": "circle", "size": 10, "opacity": 0.6},
     "encoding": {
      "x": {"field": "xc", "type": "quantitative"},
      "y": {"field": "value", "type": "quantitative"},
      "fill": {"field": "treatment", "type": "nominal"}
     }}
   ]
  },
  {
   "width": 289, "height": 206,
   "layer": [
    {"data": {"name": "boxes"},
     "transform": [{"filter": "datum.measure === 'Total'"}, {"calculate": "(datum.site === 'Control' ? 1 : 2) + (datum.treatment === 'Mono' ? -0.267 : (datum.treatment === 'Comp' ? 0 : 0.267))", "as": "xc"}],
     "mark": {"type": "rule", "strokeWidth": 1},
     "encoding": {
      "x": {"field": "xc", "type": "quantitative", "scale": {"domain": [0.4, 2.6], "nice": false, "zero": false}, "axis": {"values": [1, 2], "labelExpr": "datum.value == 1 ? 'Control' : 'Heatwave'", "title": null}},
      "y": {"field": "lw", "type": "quantitative", "scale": {"domain": [-0.27, 8.0], "nice": false, "zero": false}, "axis": {"title": "Total larval Mass (g)", "values": [0, 2, 4, 6, 8]}},
      "y2": {"field": "uw"},
      "stroke": {"field": "treatment", "type": "nominal"}
     }},
    {"data": {"name": "boxes"},
     "transform": [{"filter": "datum.measure === 'Total'"}, {"calculate": "(datum.site === 'Control' ? 1 : 2) + (datum.treatment === 'Mono' ? -0.267 : (datum.treatment === 'Comp' ? 0 : 0.267))", "as": "xc"}, {"calculate": "datum.xc - 0.128", "as": "xl"}, {"calculate": "datum.xc + 0.128", "as": "xr"}],
     "mark": {"type": "rect", "fillOpacity": 0.45, "strokeWidth": 1},
     "encoding": {
      "x": {"field": "xl", "type": "quantitative"},
      "x2": {"field": "xr"},
      "y": {"field": "q1", "type": "quantitative"},
      "y2": {"field": "q3"},
      "fill": {"field": "treatment", "type": "nominal"},
      "stroke": {"field": "treatment", "type": "nominal"}
     }},
    {"data": {"name": "boxes"},
     "transform": [{"filter": "datum.measure === 'Total'"}, {"calculate": "(datum.site === 'Control' ? 1 : 2) + (datum.treatment === 'Mono' ? -0.267 : (datum.treatment === 'Comp' ? 0 : 0.267))", "as": "xc"}, {"calculate": "datum.xc - 0.128", "as": "xl"}, {"calculate": "datum.xc + 0.128", "as": "xr"}],
     "mark": {"type": "rule", "strokeWidth": 2},
     "encoding": {
      "x": {"field": "xl", "type": "quantitative"},
      "x2": {"field": "xr"},
      "y": {"field": "med", "type": "quantitative"},
      "stroke": {"field": "treatment", "type": "nominal"}
     }},
    {"data": {"name": "points"},
     "transform": [{"filter": "datum.measure === 'Total'"}, {"calculate": "(datum.site === 'Control' ? 1 : 2) + (datum.treatment === 'Mono' ? -0.267 : (datum.treatment === 'Comp' ? 0 : 0.267)) + datum.jitter", "as": "xp"}],
     "mark": {"type": "point", "filled": true, "shape": "circle", "size": 55, "fillOpacity": 0.55, "strokeOpacity": 0.7, "strokeWidth": 0.8},
     "encoding": {
      "x": {"field": "xp", "type": "quantitative"},
      "y": {"field": "value", "type": "quantitative"},
      "fill": {"field": "treatment", "type": "nominal"},
      "stroke": {"field": "treatment", "type": "nominal"}
     }},
    {"data": {"name": "outliers"},
     "transform": [{"filter": "datum.measure === 'Total'"}, {"calculate": "(datum.site === 'Control' ? 1 : 2) + (datum.treatment === 'Mono' ? -0.267 : (datum.treatment === 'Comp' ? 0 : 0.267))", "as": "xc"}],
     "mark": {"type": "point", "filled": true, "shape": "circle", "size": 10, "opacity": 0.6},
     "encoding": {
      "x": {"field": "xc", "type": "quantitative"},
      "y": {"field": "value", "type": "quantitative"},
      "fill": {"field": "treatment", "type": "nominal"}
     }}
   ]
  },
  {
   "width": 290, "height": 206,
   "layer": [
    {"data": {"name": "boxes"},
     "transform": [{"filter": "datum.measure === 'Mean'"}, {"calculate": "(datum.site === 'Control' ? 1 : 2) + (datum.treatment === 'Mono' ? -0.267 : (datum.treatment === 'Comp' ? 0 : 0.267))", "as": "xc"}],
     "mark": {"type": "rule", "strokeWidth": 1},
     "encoding": {
      "x": {"field": "xc", "type": "quantitative", "scale": {"domain": [0.4, 2.6], "nice": false, "zero": false}, "axis": {"values": [1, 2], "labelExpr": "datum.value == 1 ? 'Control' : 'Heatwave'", "title": null}},
      "y": {"field": "lw", "type": "quantitative", "scale": {"domain": [0, 0.487], "nice": false, "zero": false}, "axis": {"title": "Mean larval Mass (g)", "values": [0, 0.1, 0.2, 0.3, 0.4], "format": ".1f"}},
      "y2": {"field": "uw"},
      "stroke": {"field": "treatment", "type": "nominal"}
     }},
    {"data": {"name": "boxes"},
     "transform": [{"filter": "datum.measure === 'Mean'"}, {"calculate": "(datum.site === 'Control' ? 1 : 2) + (datum.treatment === 'Mono' ? -0.267 : (datum.treatment === 'Comp' ? 0 : 0.267))", "as": "xc"}, {"calculate": "datum.xc - 0.128", "as": "xl"}, {"calculate": "datum.xc + 0.128", "as": "xr"}],
     "mark": {"type": "rect", "fillOpacity": 0.45, "strokeWidth": 1},
     "encoding": {
      "x": {"field": "xl", "type": "quantitative"},
      "x2": {"field": "xr"},
      "y": {"field": "q1", "type": "quantitative"},
      "y2": {"field": "q3"},
      "fill": {"field": "treatment", "type": "nominal"},
      "stroke": {"field": "treatment", "type": "nominal"}
     }},
    {"data": {"name": "boxes"},
     "transform": [{"filter": "datum.measure === 'Mean'"}, {"calculate": "(datum.site === 'Control' ? 1 : 2) + (datum.treatment === 'Mono' ? -0.267 : (datum.treatment === 'Comp' ? 0 : 0.267))", "as": "xc"}, {"calculate": "datum.xc - 0.128", "as": "xl"}, {"calculate": "datum.xc + 0.128", "as": "xr"}],
     "mark": {"type": "rule", "strokeWidth": 2},
     "encoding": {
      "x": {"field": "xl", "type": "quantitative"},
      "x2": {"field": "xr"},
      "y": {"field": "med", "type": "quantitative"},
      "stroke": {"field": "treatment", "type": "nominal"}
     }},
    {"data": {"name": "points"},
     "transform": [{"filter": "datum.measure === 'Mean'"}, {"calculate": "(datum.site === 'Control' ? 1 : 2) + (datum.treatment === 'Mono' ? -0.267 : (datum.treatment === 'Comp' ? 0 : 0.267)) + datum.jitter", "as": "xp"}],
     "mark": {"type": "point", "filled": true, "shape": "circle", "size": 55, "fillOpacity": 0.55, "strokeOpacity": 0.7, "strokeWidth": 0.8},
     "encoding": {
      "x": {"field": "xp", "type": "quantitative"},
      "y": {"field": "value", "type": "quantitative"},
      "fill": {"field": "treatment", "type": "nominal"},
      "stroke": {"field": "treatment", "type": "nominal"}
     }},
    {"data": {"name": "outliers"},
     "transform": [{"filter": "datum.measure === 'Mean'"}, {"calculate": "(datum.site === 'Control' ? 1 : 2) + (datum.treatment === 'Mono' ? -0.267 : (datum.treatment === 'Comp' ? 0 : 0.267))", "as": "xc"}],
     "mark": {"type": "point", "filled": true, "shape": "circle", "size": 10, "opacity": 0.6},
     "encoding": {
      "x": {"field": "xc", "type": "quantitative"},
      "y": {"field": "value", "type": "quantitative"},
      "fill": {"field": "treatment", "type": "nominal"}
     }}
   ]
  }
 ]
}
